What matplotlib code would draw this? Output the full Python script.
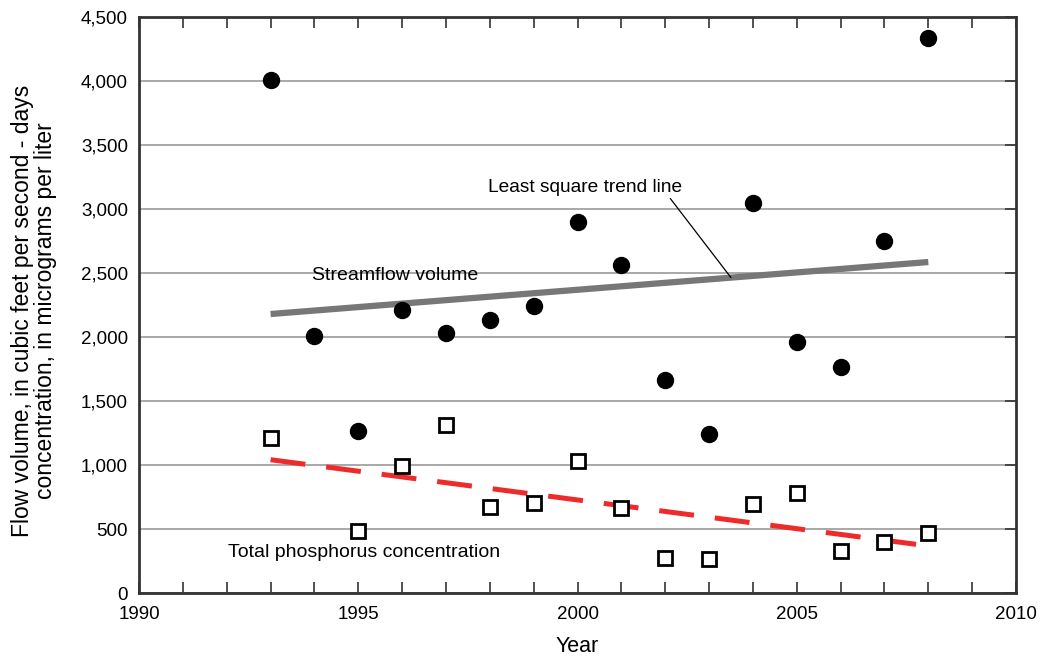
import numpy as np
import matplotlib.pyplot as plt

# annual streamflow volume and total phosphorus concentration
flow_years = np.arange(1993, 2009)
flow_volume = [4010, 2005, 1266, 2211, 2031, 2133, 2242, 2898,
               2562, 1664, 1242, 3047, 1961, 1766, 2750, 4336]

tp_years = [1993, 1995, 1996, 1997, 1998, 1999, 2000, 2001,
            2002, 2003, 2004, 2005, 2006, 2007, 2008]
tp_conc = [1211, 484, 992, 1312, 672, 703, 1031, 664,
           273, 266, 695, 781, 328, 398, 469]

y_ticks = np.arange(0, 4501, 500)
x_major = [1990, 1995, 2000, 2005, 2010]

plt.rcParams['font.family'] = ['Liberation Sans', 'DejaVu Sans']

fig = plt.figure(figsize=(10.47, 6.62), dpi=100)
ax = fig.add_axes([0.1328, 0.1042, 0.8376, 0.8701])

ax.set_xlim(1990, 2010)
ax.set_ylim(0, 4500)
ax.set_yticks(y_ticks)
ax.set_yticklabels([f'{v:,}' for v in y_ticks])
ax.set_xticks(x_major)
ax.set_xticks(np.arange(1990, 2011), minor=True)
ax.yaxis.grid(True, color='#9a9a9a', linewidth=1.2)
ax.set_axisbelow(True)

ax.tick_params(axis='both', which='both', direction='in', length=8, width=1.2,
               color='#333333', labelsize=13.5, top=True, right=True)
ax.tick_params(axis='x', which='major', pad=9)
ax.tick_params(axis='y', which='major', pad=8, left=False)
for s in ax.spines.values():
    s.set_linewidth(2)
    s.set_color('#333333')

# least-squares trend lines
fx = np.array(flow_years, dtype=float)
p_flow = np.polyfit(fx, flow_volume, 1)
ax.plot([fx[0], fx[-1]], np.polyval(p_flow, [fx[0], fx[-1]]),
        color='#77777a', linewidth=4.5, solid_capstyle='butt', zorder=2)

tx = np.array(tp_years, dtype=float)
p_tp = np.polyfit(tx, tp_conc, 1)
ax.plot([tx[0], tx[-1]], np.polyval(p_tp, [tx[0], tx[-1]]),
        color='#ee2a2a', linewidth=3.6, dashes=(7, 4.2), dash_capstyle='butt', zorder=2)

ax.plot(flow_years, flow_volume, 'o', color='black', markersize=11.5, zorder=3)
ax.plot(tp_years, tp_conc, 's', markerfacecolor='white', markeredgecolor='black',
        markeredgewidth=2, markersize=9.5, zorder=3)

ax.text(1993.95, 2480, 'Streamflow volume', fontsize=14, va='center', ha='left')
ax.text(1992.04, 320, 'Total phosphorus concentration', fontsize=14, va='center', ha='left')
ax.annotate('Least square trend line', xy=(2003.5, np.polyval(p_flow, 2003.5)),
            xytext=(1997.95, 3170), fontsize=13.8, va='center', ha='left',
            arrowprops=dict(arrowstyle='-', color='black', linewidth=0.9,
                            shrinkA=0, shrinkB=0, relpos=(0.93, 0.0)))

ax.set_xlabel('Year', fontsize=15.5, labelpad=10)
ax.set_ylabel('Flow volume, in cubic feet per second - days\nconcentration, in micrograms per liter',
              fontsize=16.5, linespacing=1.0)
ax.yaxis.set_label_coords(-0.093, 0.49)

fig.savefig('out.png', dpi=100)
